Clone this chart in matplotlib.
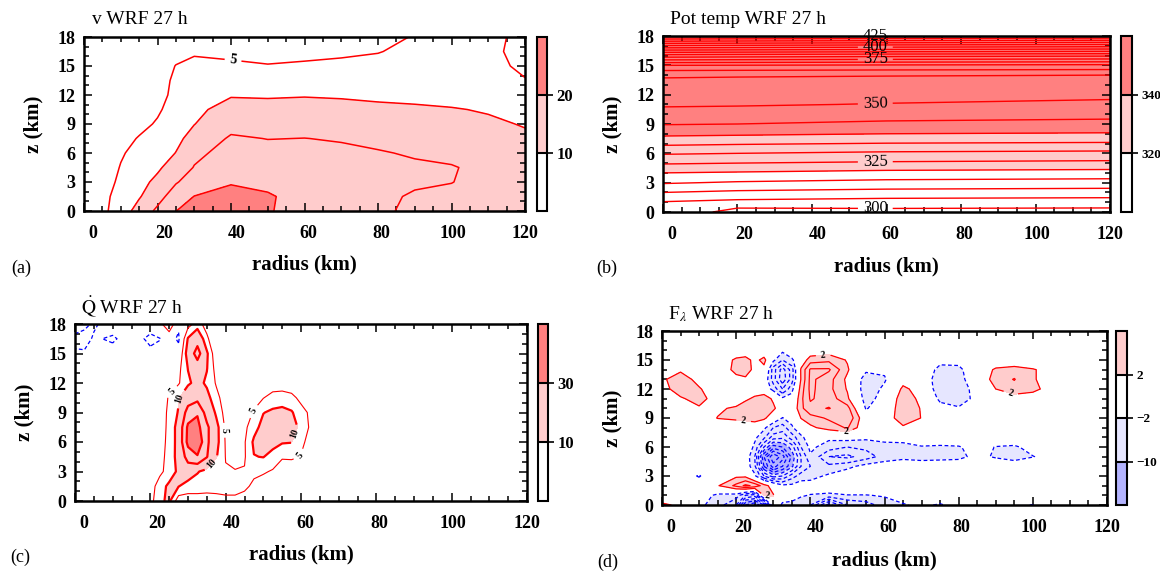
import numpy as np
import matplotlib.pyplot as plt
from matplotlib.ticker import MultipleLocator
from matplotlib.transforms import ScaledTranslation

plt.rcParams['font.family'] = ['Liberation Serif', 'DejaVu Serif']
plt.rcParams['mathtext.fontset'] = 'stix'
plt.rcParams['lines.dashed_pattern'] = [3.0, 2.0]

radius_ticks = [0, 20, 40, 60, 80, 100, 120]
height_ticks = [0, 3, 6, 9, 12, 15, 18]

# (a) tangential wind v, rows = heights, columns = radii
v_r = [0, 5, 10, 15, 20, 25, 30, 40, 50, 60, 70, 80, 90, 100, 110, 120]
v_z = [0, 1.5, 3, 4.5, 6, 7.5, 9, 10.5, 12, 13.5, 15, 16.5, 18]
v_wind = [
    [0, 3.8, 7.6, 11.8, 16.0, 19.9, 23.0, 24.0, 20.5, 17.5, 16.5, 15.7, 14.2, 13.8, 13.4, 13.0],
    [0, 3.6, 6.9, 9.6, 13.2, 17.5, 20.1, 22.5, 20.6, 18.0, 16.8, 15.8, 14.6, 14.0, 13.6, 13.2],
    [0, 3.2, 5.8, 8.4, 11.2, 14.6, 17.2, 19.4, 18.6, 17.6, 16.8, 16.0, 15.5, 15.1, 13.6, 12.8],
    [0, 2.8, 5.2, 7.2, 9.2, 12.4, 15.2, 17.8, 17.4, 17.0, 16.5, 16.0, 15.6, 15.4, 13.4, 12.6],
    [0, 2.4, 4.6, 6.2, 7.8, 10.1, 14.0, 16.6, 16.4, 16.2, 15.8, 15.3, 14.6, 13.4, 12.3, 11.6],
    [0, 2.1, 4.0, 5.2, 6.8, 8.9, 11.6, 15.6, 14.9, 15.05, 14.7, 14.0, 13.4, 12.6, 11.6, 10.8],
    [0, 1.8, 3.3, 4.2, 5.3, 7.2, 9.9, 13.4, 13.2, 13.4, 13.0, 12.5, 12.1, 11.6, 10.8, 9.7],
    [0, 1.6, 2.8, 3.5, 4.6, 6.2, 8.8, 12.0, 12.2, 12.4, 12.0, 11.3, 10.8, 10.3, 9.6, 8.6],
    [0, 1.5, 2.4, 3.0, 4.1, 5.7, 7.4, 9.6, 9.3, 9.6, 9.3, 8.8, 8.6, 8.3, 7.7, 7.3],
    [0, 1.3, 2.1, 2.7, 3.7, 5.6, 6.8, 7.6, 7.0, 7.2, 7.3, 7.0, 6.8, 6.5, 5.9, 5.1],
    [0, 1.1, 1.8, 2.4, 3.3, 5.1, 5.8, 5.5, 5.15, 5.3, 5.5, 5.7, 6.0, 6.0, 5.6, 4.6],
    [0, 0.9, 1.5, 2.0, 2.8, 3.9, 4.6, 4.3, 4.0, 4.4, 4.6, 4.9, 5.6, 5.8, 5.5, 4.3],
    [0, 0.7, 1.2, 1.6, 2.2, 3.0, 3.6, 3.5, 3.3, 3.6, 4.0, 4.5, 5.1, 5.4, 5.4, 4.6],
]

# (b) potential temperature (K)
theta_r = [0, 20, 60, 120]
theta_z = [0, 0.5, 1, 2, 3, 4, 5, 6, 7, 8, 9, 10, 11, 12, 13, 14, 15, 16, 17, 18]
theta = [
    [300.8, 299.6, 299.2, 299.0],
    [302.6, 300.1, 300.3, 300.2],
    [304.7, 303.6, 302.9, 302.6],
    [310.0, 309.0, 308.2, 307.8],
    [315.5, 314.5, 313.5, 313.0],
    [320.0, 319.5, 318.5, 318.0],
    [325.5, 325.0, 324.3, 323.8],
    [330.5, 330.0, 329.1, 328.6],
    [336.0, 335.5, 334.8, 334.4],
    [341.2, 340.8, 340.0, 339.6],
    [345.3, 345.0, 344.0, 343.5],
    [348.2, 348.0, 347.2, 346.5],
    [350.6, 350.4, 349.8, 349.0],
    [352.0, 352.0, 351.5, 351.0],
    [353.5, 353.4, 353.2, 353.0],
    [355.6, 355.4, 355.2, 355.0],
    [365.0, 364.8, 364.3, 363.8],
    [383.0, 382.5, 381.8, 381.0],
    [404.5, 404.0, 403.0, 402.0],
    [427.0, 426.5, 425.8, 425.0],
]
theta_labelled = [300, 325, 350, 375, 400, 425]

# (c) diabatic heating Q-dot
q_r = [0, 2.5, 5, 10, 15, 20, 22.5, 25, 27.5, 30, 32.5, 35, 37.5, 40, 42.5, 45,
       47.5, 50, 52.5, 55, 57.5, 60, 62.5, 65, 70, 120]
q_z = [0, 1.5, 3, 4.5, 6, 7.5, 9, 10.5, 12, 13.5, 15, 16.5, 18]
q_heat = [
    [0, 0, 0, 0, 0, 3, 9, 11, 2, 2.5, 3, 3.2, 3.5, 4, 4, 3, 1.5, 0, 0, 0, 0, 0, 0, 0, 0, 0],
    [0, 0, 0, 0, 0, 2, 8, 11, 10.2, 7.5, 7, 6.5, 6.5, 6.5, 6.5, 6, 4, 2.5, 1.5, 0.5, 0, 0, 0, 0, 0, 0],
    [0, 0, 0, 0, 0, 1, 3.5, 7.5, 11, 14, 10.5, 8, 6.5, 5.3, 5.2, 5.3, 6, 5.6, 4.5, 2.5, 1, 0, 0, 0, 0, 0],
    [0, 0, 0, 0, 0, 0.5, 3, 7, 12, 24, 29, 20.5, 10.5, 4.8, 3.8, 4.5, 9.8, 10.2, 8, 5.5, 6, 4.8, 2, 0.5, 0, 0],
    [0, 0, 0, 0, 0, 0.5, 3.5, 6, 12.5, 33, 38, 22, 12, 4.5, 3.5, 4.5, 11, 13, 12, 10.5, 10.2, 6, 3.5, 1, 0, 0],
    [0, 0, 0, 0, 0, 0.5, 3, 6, 12.5, 32, 33, 22, 12, 4, 3, 3.8, 8, 12, 14, 14, 12.5, 8.5, 4.2, 1.5, 0, 0],
    [0, 0, 0, 0, 0, 0.3, 2.5, 6, 10.5, 24, 29, 16, 9, 3, 2, 2.5, 5.5, 9.8, 11, 11.5, 10.5, 7, 4, 1, 0, 0],
    [0, 0, 0, 0, 0, 0.2, 2, 5.5, 9.5, 15, 17, 12, 6.5, 2.5, 1.5, 1.5, 3, 4.8, 7, 7.5, 6.5, 3.5, 1.5, 0.5, 0, 0],
    [0, 0, 0, 0, 0, 0, 1, 3, 4.5, 9, 12, 9, 4.5, 1.5, 0.5, 0.5, 1, 1.5, 2, 2, 1.5, 1, 0, 0, 0, 0],
    [0, 0, 0, 0, 0, 0, 0, 1.5, 3.5, 10.2, 15, 10.3, 3, 0.5, 0, 0, 0, 0, 0, 0, 0, 0, 0, 0, 0, 0],
    [-1.5, -1.5, -1, -0.5, 0, -1, -0.5, 0, 0, 13, 24, 11, 1, 0, 0, 0, 0, 0, 0, 0, 0, 0, 0, 0, 0, 0],
    [-3, -3.5, -1.5, -2.6, 0, -3, -2.2, 0, -2.8, 10.5, 16, 6, 0.5, 0, 0, 0, 0, 0, 0, 0, 0, 0, 0, 0, 0, 0],
    [0, -1, -2.6, 0, 0, 0, 3, 10.5, -1, 3, 7, 3, 0, 0, 0, 0, 0, 0, 0, 0, 0, 0, 0, 0, 0, 0],
]

# (d) F_lambda
f_r = [0, 5, 10, 15, 20, 22.5, 25, 27.5, 30, 32.5, 35, 37.5, 40, 45, 50, 55, 60,
       65, 70, 75, 80, 85, 90, 95, 100, 110, 120]
f_z = [0, 1, 2, 3, 4, 5, 6, 7, 8, 9, 10, 11, 12, 13, 14, 15, 16, 17, 18]
f_lambda = [
    [2.5, 1.5, -1.5, -3, -6, -14, -16, -12, 0.5, -2.5, -2.5, -3, -4, -11, -6, -5, -3, -2.2, -1.5, -2.3, -1, -0.5, 0, -1.5, -2.1, 0, 0],
    [0, 0, -0.5, -2.6, -3, -6, -7, 2.2, 2.2, -0.5, -1.2, -1.8, -2.1, -2.6, -2.1, -2.1, -1.8, -1, 0, 0, 0, 0, 0, 0, 0, 0, 0],
    [0, 0, 0, 1.8, 4.5, 6.5, 5.5, 3, 0.8, -1.5, -1.5, -1, -1, 0, 0, 0, 0, 0, 0, 0, 0, 0, 0, 0, 0, 0, 0],
    [0, 0, -2.3, 1.2, 1.6, 1.5, -1.5, -6, -9, -8, -5, -3, -2.8, -1.6, -0.5, 0, 0, 0, 0, 0, 0, 0, 0, 0, 0, 0, 0],
    [0, 0, 0, 0, 0, -0.5, -3.5, -12, -17, -14, -10.5, -6, -4, -3.5, -2.6, -1.2, -0.8, -0.5, -0.5, -0.5, -0.5, 0, 0, -0.5, 0, 0, 0],
    [0, 0, 0, 0, 0, -0.5, -4, -14, -20, -17, -11.5, -6, -2.3, -6, -6.5, -5, -3.2, -2.6, -3, -2.8, -2.6, -1.3, -2.3, -3, -2.1, 0, 0],
    [0, 0, 0, 0, 0, 0, -2.5, -8, -13, -12, -9, -4, -1.5, -3, -4, -3.5, -3, -2.8, -2.2, -2.4, -2.2, -1, -2.1, -2.4, -1, 0, 0],
    [0, 0, 0, 0, 0, 0, -1.5, -3.5, -7, -7.5, -5, -2.6, -0.5, -1.5, -1, -1.5, -1, -1, 0, 0, 0, 0, 0, 0, 0, 0, 0],
    [0, 0, 0, 0, 0.5, 0.6, 0.8, -1.5, -4, -5, -2.4, 0, 1.5, 3, 4.2, 0, 0, 1.5, 1, 0, 0, 0, 0, 0, 0, 0, 0],
    [0, 0, 0, 2.1, 2.4, 2.6, 2.8, 2.6, 0, -2.1, -1, 2.1, 3.2, 4.3, 5.8, 0, 0, 3.8, 1.9, 0, 0, 0, 0, 0, 0, 0, 0],
    [0, 0, 1.5, 1.5, 2.5, 3.5, 3.6, 3.8, 2.6, 0, 0, 3.5, 5.5, 6.1, 4.8, -2.2, -0.5, 3.8, 1.8, -1, -1.8, 0, 0, 0, 0, 0, 0],
    [0, 1.5, 3.5, 0, 0, 1.5, 2.5, 3.5, 1.5, -1.5, -1, 3.5, 6.2, 5.2, 2.4, -3, -1, 3.5, 1.3, -2.6, -3, -1.4, 0.5, 1, 1, 0, 0],
    [0.5, 4, 2.3, 0, 0, 0, 0.5, 0, -2.8, -6, -2.8, 3, 6.5, 4.6, 1.8, -3.5, -1.5, 2.5, 1, -3.8, -3.3, -1, 2, 3.2, 2.5, 0, 0],
    [1.5, 3.5, 1, 0, 1.2, 1.5, 0, 0, -5, -9.5, -5, 2.2, 6.5, 4.8, 1.5, -3.3, -2.3, 1, 0, -3.6, -3, 0, 3, 4.1, 2.2, 0, 0],
    [1, 1.5, 0, 0, 2.8, 3.4, 1.2, 1.2, -5, -9, -5, 2.3, 6.3, 6.3, 2.3, -1.5, -1.5, 0, 0, -2.8, -2.6, 0, 2.4, 3, 2.2, 0, 0],
    [0, 0, 0, 0, 2.5, 3, 1.2, 2.8, -1.5, -4, -2.5, 0.5, 3, 3.5, 1.8, 0, 0, 0, 0, -1.2, -1.2, 0, 0, 0, 0, 0, 0],
    [0, 0, 0, 0, 0, 0, 0, 0, 0, -1.5, 0, 0, 0.5, 0.8, 0, 0, 0, 0, 0, 0, 0, 0, 0, 0, 0, 0, 0],
    [0] * 27,
    [0] * 27,
]

pink = '#ffcccc'
rose = '#ff8080'
lblue = '#e6e6ff'
mblue = '#b4b4ff'

W, H = 1160, 574
fig = plt.figure(figsize=(11.6, 5.74), dpi=100)


def box(x0, y0, x1, y1):
    return [x0 / W, 1 - y1 / H, (x1 - x0) / W, (y1 - y0) / H]


def frame(ax):
    ax.set_xlim(0, 120)
    ax.set_ylim(0, 18)
    ax.set_xticks(radius_ticks)
    ax.xaxis.set_minor_locator(MultipleLocator(5))
    ax.set_yticks(height_ticks, [str(h) for h in height_ticks], fontsize=13, fontweight='bold')
    ax.yaxis.set_minor_locator(MultipleLocator(1))
    ax.tick_params(which='both', direction='in', top=True, right=True, width=1.1)
    ax.tick_params(which='major', length=6, pad=6)
    ax.tick_params(which='minor', length=3.5)
    ax.tick_params(axis='x', labelbottom=False)
    for sp in ax.spines.values():
        sp.set_linewidth(1.8)
        sp.set_zorder(5)
    shift = ax.get_xaxis_transform() + ScaledTranslation(0, -0.22, fig.dpi_scale_trans)
    for t in radius_ticks:
        ax.text(2.3 + t * 117.7 / 120, 0, str(t), transform=shift, ha='center', va='center',
                fontsize=13, fontweight='bold')


def bar(cf, cax, ticks, labels, size):
    cb = fig.colorbar(cf, cax=cax, ticks=ticks, drawedges=True)
    cb.outline.set_linewidth(1.5)
    cb.dividers.set_linewidth(1.5)
    cb.ax.tick_params(length=4, width=1.2, direction='out', pad=3)
    cb.ax.set_yticklabels(labels, fontsize=size, fontweight='bold')


def bold(texts):
    for t in texts:
        t.set_fontweight('bold')


# ---- (a)
ax = fig.add_axes(box(84, 37, 525, 211))
cf = ax.contourf(v_r, v_z, v_wind, levels=[-100, 10, 20, 100], colors=['white', pink, rose])
ax.contour(v_r, v_z, v_wind, levels=[10, 15, 20], colors='red', linewidths=1.1)
cs5 = ax.contour(v_r, v_z, v_wind, levels=[5], colors='red', linewidths=1.1)
bold(ax.clabel(cs5, manual=[(40.5, 15.4)], inline=True, fontsize=10, fmt='%d', colors='k'))
frame(ax)
bar(cf, fig.add_axes(box(537, 37, 547, 211)), [10, 20], ['10', '20'], 12)

# ---- (b)
ax = fig.add_axes(box(663, 36, 1110, 212))
cf = ax.contourf(theta_r, theta_z, theta, levels=[280, 320, 340, 440], colors=['white', pink, rose])
others = [lv for lv in range(300, 426, 5) if lv not in theta_labelled]
ax.contour(theta_r, theta_z, theta, levels=others, colors='red', linewidths=1.0)
cs = ax.contour(theta_r, theta_z, theta, levels=theta_labelled, colors='red', linewidths=1.0)
for t in ax.clabel(cs, manual=[(57, 0.4), (57, 5.1), (57, 10.9), (57, 15.6), (57, 16.9), (57, 17.9)],
                   inline=True, fontsize=12, fmt='%d', colors='k'):
    t.set_clip_on(False)
    t.set_zorder(6)
frame(ax)
bar(cf, fig.add_axes(box(1121, 36, 1132, 212)), [320, 340], ['320', '340'], 9.5)

# ---- (c)
ax = fig.add_axes(box(75, 324, 527, 501))
cf = ax.contourf(q_r, q_z, q_heat, levels=[-100, 10, 30, 100], colors=['white', pink, rose])
thin = ax.contour(q_r, q_z, q_heat, levels=[5], colors='red', linewidths=0.8)
thick = ax.contour(q_r, q_z, q_heat, levels=[10], colors='red', linewidths=1.6)
ax.contour(q_r, q_z, q_heat, levels=[20, 30], colors='red', linewidths=1.6)
ax.contour(q_r, q_z, q_heat, levels=[-2], colors='blue', linewidths=0.9, linestyles='dashed')
bold(ax.clabel(thin, manual=[(25.5, 11.2), (40.3, 7.2), (47.0, 9.2), (59.8, 4.6)],
               inline=True, fontsize=7, fmt='%d', colors='k'))
bold(ax.clabel(thick, manual=[(28.0, 10.4), (37.0, 3.6), (58.5, 6.8)],
               inline=True, fontsize=7, fmt='%d', colors='k'))
frame(ax)
bar(cf, fig.add_axes(box(538, 324, 548, 501)), [10, 30], ['10', '30'], 12)

# ---- (d)
ax = fig.add_axes(box(662, 331, 1107, 505))
cf = ax.contourf(f_r, f_z, f_lambda, levels=[-100, -10, -2, 2, 100], colors=[mblue, lblue, 'white', pink])
red2 = ax.contour(f_r, f_z, f_lambda, levels=[2], colors='red', linewidths=0.9)
ax.contour(f_r, f_z, f_lambda, levels=[4, 6], colors='red', linewidths=0.9)
ax.contour(f_r, f_z, f_lambda, levels=np.arange(-20, -1, 2), colors='blue', linewidths=0.9,
           linestyles='dashed')
bold(ax.clabel(red2, manual=[(43.5, 15.4), (22.0, 8.7), (49.5, 7.4), (94.0, 11.5), (28.5, 0.9)],
               inline=True, fontsize=7, fmt='%d', colors='k'))
frame(ax)
bar(cf, fig.add_axes(box(1116, 331, 1127, 505)), [-10, -2, 2], ['\u221210', '\u22122', '2'], 9.5)

# ---- titles and labels
fig.text(92 / W, 1 - 20 / H, 'v WRF 27 h', fontsize=14, va='center', ha='left')
fig.text(670 / W, 1 - 19 / H, 'Pot temp WRF 27 h', fontsize=14, va='center', ha='left')
fig.text(81 / W, 1 - 307 / H, r'$\dot{\mathrm{Q}}$ WRF 27 h', fontsize=14, va='center', ha='left')
fig.text(668 / W, 1 - 314 / H, r'F$_{\lambda}$ WRF 27 h', fontsize=14, va='center', ha='left')

for x, y in [(304, 264), (886, 266), (301, 554), (884, 560)]:
    fig.text(x / W, 1 - y / H, 'radius (km)', fontsize=15, fontweight='bold', ha='center', va='center')
for x, y in [(33, 124), (612, 124), (24, 412), (612, 418)]:
    fig.text(x / W, 1 - y / H, 'z (km)', fontsize=15, fontweight='bold', ha='center', va='center',
             rotation=90)
for x, y, s in [(21, 268, '(a)'), (607, 268, '(b)'), (20, 557, '(c)'), (608, 562, '(d)')]:
    fig.text(x / W, 1 - y / H, s, fontsize=13, ha='center', va='center')

fig.savefig('out.png', dpi=100)
